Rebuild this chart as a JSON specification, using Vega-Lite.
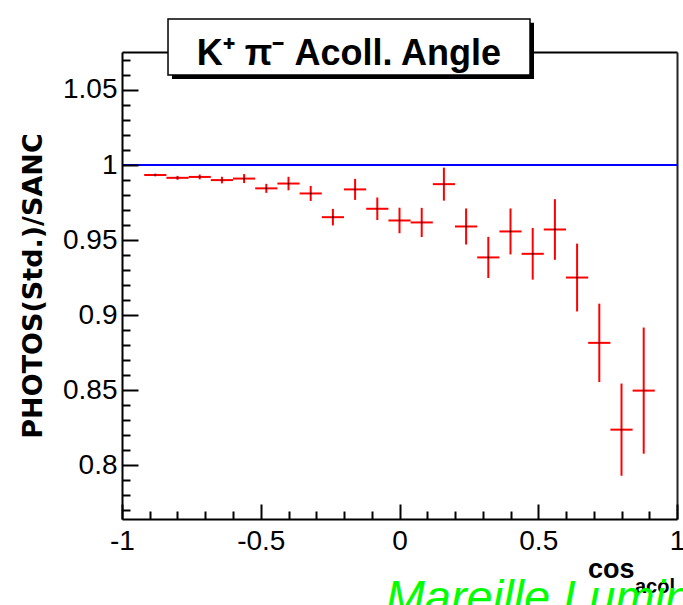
{
  "$schema": "https://vega.github.io/schema/vega-lite/v6.json",
  "width": 555,
  "height": 467,
  "autosize": {"type": "none"},
  "padding": {"left": 122, "top": 52, "right": 6, "bottom": 86},
  "background": "white",
  "config": {"view": {"stroke": null}, "font": "Liberation Sans, sans-serif"},
  "data": {"values": [
    {"x": -0.88, "xlo": -0.92, "xhi": -0.84, "y": 0.9934, "ylo": 0.9925, "yhi": 0.9943},
    {"x": -0.80, "xlo": -0.84, "xhi": -0.76, "y": 0.9915, "ylo": 0.9902, "yhi": 0.9928},
    {"x": -0.72, "xlo": -0.76, "xhi": -0.68, "y": 0.9921, "ylo": 0.9905, "yhi": 0.9937},
    {"x": -0.64, "xlo": -0.68, "xhi": -0.60, "y": 0.9900, "ylo": 0.9878, "yhi": 0.9922},
    {"x": -0.56, "xlo": -0.60, "xhi": -0.52, "y": 0.9910, "ylo": 0.9880, "yhi": 0.9940},
    {"x": -0.48, "xlo": -0.52, "xhi": -0.44, "y": 0.9845, "ylo": 0.9815, "yhi": 0.9875},
    {"x": -0.40, "xlo": -0.44, "xhi": -0.36, "y": 0.9877, "ylo": 0.9832, "yhi": 0.9922},
    {"x": -0.32, "xlo": -0.36, "xhi": -0.28, "y": 0.9811, "ylo": 0.9761, "yhi": 0.9861},
    {"x": -0.24, "xlo": -0.28, "xhi": -0.20, "y": 0.9653, "ylo": 0.9598, "yhi": 0.9708},
    {"x": -0.16, "xlo": -0.20, "xhi": -0.12, "y": 0.9838, "ylo": 0.9768, "yhi": 0.9908},
    {"x": -0.08, "xlo": -0.12, "xhi": -0.04, "y": 0.9709, "ylo": 0.9634, "yhi": 0.9784},
    {"x": 0.00, "xlo": -0.04, "xhi": 0.04, "y": 0.9631, "ylo": 0.9546, "yhi": 0.9716},
    {"x": 0.08, "xlo": 0.04, "xhi": 0.12, "y": 0.9618, "ylo": 0.9521, "yhi": 0.9715},
    {"x": 0.16, "xlo": 0.12, "xhi": 0.20, "y": 0.9873, "ylo": 0.9763, "yhi": 0.9983},
    {"x": 0.24, "xlo": 0.20, "xhi": 0.28, "y": 0.9591, "ylo": 0.9471, "yhi": 0.9711},
    {"x": 0.32, "xlo": 0.28, "xhi": 0.36, "y": 0.9385, "ylo": 0.9248, "yhi": 0.9522},
    {"x": 0.40, "xlo": 0.36, "xhi": 0.44, "y": 0.9558, "ylo": 0.9405, "yhi": 0.9711},
    {"x": 0.48, "xlo": 0.44, "xhi": 0.52, "y": 0.9409, "ylo": 0.9237, "yhi": 0.9581},
    {"x": 0.56, "xlo": 0.52, "xhi": 0.60, "y": 0.9571, "ylo": 0.9369, "yhi": 0.9773},
    {"x": 0.64, "xlo": 0.60, "xhi": 0.68, "y": 0.9251, "ylo": 0.9025, "yhi": 0.9477},
    {"x": 0.72, "xlo": 0.68, "xhi": 0.76, "y": 0.8816, "ylo": 0.8555, "yhi": 0.9077},
    {"x": 0.80, "xlo": 0.76, "xhi": 0.84, "y": 0.8238, "ylo": 0.7931, "yhi": 0.8545},
    {"x": 0.88, "xlo": 0.84, "xhi": 0.92, "y": 0.8498, "ylo": 0.8078, "yhi": 0.8918}
  ]},
  "resolve": {"axis": {"x": "independent", "y": "independent"}},
  "layer": [
    {
      "data": {"values": [{}]},
      "mark": {"type": "rule", "color": "#0000ff", "strokeWidth": 2},
      "encoding": {"y": {"datum": 1, "type": "quantitative", "axis": null}}
    },
    {
      "mark": {"type": "rule", "color": "#ff0000", "strokeWidth": 2},
      "encoding": {
        "x": {"field": "x", "type": "quantitative",
          "scale": {"domain": [-1, 1], "nice": false, "zero": false},
          "axis": {"orient": "bottom", "values": [-1, -0.5, 0, 0.5, 1], "labelExpr": "'' + datum.value",
            "tickSize": -15, "tickWidth": 2, "tickColor": "black", "domainColor": "black", "domainWidth": 2,
            "labelFont": "Liberation Sans", "labelFontSize": 28, "labelColor": "black",
            "labelPadding": 23, "labelFlush": false, "labelOverlap": false, "grid": false, "title": null, "zindex": 1}},
        "y": {"field": "ylo", "type": "quantitative",
          "scale": {"domain": [0.7643, 1.0753], "nice": false, "zero": false},
          "axis": {"orient": "left", "values": [0.8, 0.85, 0.9, 0.95, 1, 1.05], "labelExpr": "'' + datum.value",
            "tickSize": -16, "tickWidth": 2, "tickColor": "black", "domainColor": "black", "domainWidth": 2,
            "labelFont": "Liberation Sans", "labelFontSize": 28, "labelColor": "black",
            "labelPadding": 21, "labelOverlap": false, "labelFlush": false, "grid": false,
            "title": "PHOTOS(Std.)/SANC", "titleFont": "DejaVu Sans", "titleFontWeight": "bold", "titleFontSize": 27,
            "titleColor": "black", "titlePadding": 15, "zindex": 1}},
        "y2": {"field": "yhi"}
      }
    },
    {
      "mark": {"type": "rule", "color": "#ff0000", "strokeWidth": 2},
      "encoding": {
        "x": {"field": "xlo", "type": "quantitative",
          "axis": {"orient": "bottom", "values": [-0.9, -0.8, -0.7, -0.6, -0.4, -0.3, -0.2, -0.1, 0.1, 0.2, 0.3, 0.4, 0.6, 0.7, 0.8, 0.9],
            "labels": false, "domain": false, "tickSize": -8, "tickWidth": 2, "tickColor": "black", "grid": false, "title": null, "zindex": 1}},
        "x2": {"field": "xhi"},
        "y": {"field": "y", "type": "quantitative",
          "axis": {"orient": "left", "values": [0.77, 0.78, 0.79, 0.81, 0.82, 0.83, 0.84, 0.86, 0.87, 0.88, 0.89, 0.91, 0.92, 0.93, 0.94, 0.96, 0.97, 0.98, 0.99, 1.01, 1.02, 1.03, 1.04, 1.06, 1.07],
            "labels": false, "domain": false, "tickSize": -8, "tickWidth": 2, "tickColor": "black", "grid": false, "title": null, "zindex": 1}}
      }
    },
    {
      "mark": {"type": "point", "filled": true, "color": "black", "size": 3, "opacity": 1},
      "encoding": {
        "x": {"field": "x", "type": "quantitative",
          "axis": {"orient": "top", "labels": false, "ticks": false, "domain": true, "domainColor": "black", "domainWidth": 2, "grid": false, "title": null, "zindex": 0}},
        "y": {"field": "y", "type": "quantitative",
          "axis": {"orient": "right", "labels": false, "ticks": false, "domain": true, "domainColor": "#222222", "domainWidth": 2, "grid": false, "title": null, "zindex": 0}}
      }
    },
    {
      "data": {"values": [{}]},
      "mark": {"type": "rect", "color": "black"},
      "encoding": {
        "x": {"datum": -0.8198, "type": "quantitative", "axis": null},
        "x2": {"datum": 0.4847},
        "y": {"datum": 1.0947, "type": "quantitative", "axis": null},
        "y2": {"datum": 1.0573}
      }
    },
    {
      "data": {"values": [{}]},
      "mark": {"type": "rect", "fill": "white", "stroke": "black", "strokeWidth": 1.5},
      "encoding": {
        "x": {"datum": -0.8342, "type": "quantitative", "axis": null},
        "x2": {"datum": 0.4703},
        "y": {"datum": 1.0973, "type": "quantitative", "axis": null},
        "y2": {"datum": 1.06}
      }
    },
    {
      "data": {"values": [{"t": "K⁺ π⁻ Acoll. Angle"}]},
      "mark": {"type": "text", "align": "center", "baseline": "alphabetic", "font": "Liberation Sans", "fontWeight": "bold", "fontSize": 36, "color": "black"},
      "encoding": {
        "x": {"datum": -0.182, "type": "quantitative", "axis": null},
        "y": {"datum": 1.0667, "type": "quantitative", "axis": null},
        "text": {"field": "t"}
      }
    },
    {
      "data": {"values": [{"t": "cos"}]},
      "mark": {"type": "text", "align": "left", "baseline": "alphabetic", "font": "Liberation Sans", "fontWeight": "bold", "fontSize": 27, "color": "black"},
      "encoding": {
        "x": {"datum": 0.6793, "type": "quantitative", "axis": null},
        "y": {"datum": 0.7247, "type": "quantitative", "axis": null},
        "text": {"field": "t"}
      }
    },
    {
      "data": {"values": [{"t": "acol"}]},
      "mark": {"type": "text", "align": "left", "baseline": "alphabetic", "font": "Liberation Sans", "fontWeight": "bold", "fontSize": 20, "color": "black"},
      "encoding": {
        "x": {"datum": 0.8486, "type": "quantitative", "axis": null},
        "y": {"datum": 0.7147, "type": "quantitative", "axis": null},
        "text": {"field": "t"}
      }
    },
    {
      "data": {"values": [{"t": "Mareille Lumin"}]},
      "mark": {"type": "text", "align": "left", "baseline": "alphabetic", "font": "Liberation Sans", "fontStyle": "italic", "fontSize": 47, "color": "#00ff00"},
      "encoding": {
        "x": {"datum": -0.05, "type": "quantitative", "axis": null},
        "y": {"datum": 0.702, "type": "quantitative", "axis": null},
        "text": {"field": "t"}
      }
    }
  ]
}
